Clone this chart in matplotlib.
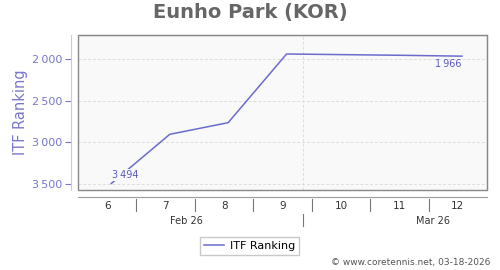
import matplotlib
matplotlib.use("Agg")
import matplotlib.pyplot as plt
from matplotlib.patches import Rectangle
import matplotlib.transforms as mtransforms

# data
weeks = [6, 7, 8, 9, 10, 11, 12]
rank = [3494, 2904, 2764, 1940, 1948, 1956, 1966]
day_offset = 0.07  # points sit a little right of the week centre
week_labels = ['6', '7', '8', '9', '10', '11', '12']
months = ['Feb 26', 'Mar 26']
month_pos = [7.36, 11.57]
month_break = 9 + 2.5 / 7  # Mar 1
yticks = [2000, 2500, 3000, 3500]

line_col = '#6b6bcc'
axis_col = '#7777cc'

def fmt(v):
    s = f"{v:,}"
    return s.replace(',', '\u2009')

fig = plt.figure(figsize=(5, 2.7), dpi=100)
ax = fig.add_axes([0.156, 0.2963, 0.818, 0.5741])
ax.set_facecolor('#f9f9f9')

xs = [w + day_offset for w in weeks]
ax.plot(xs, rank, color=line_col, lw=1.1, label='ITF Ranking', zorder=3)

ax.set_xlim(5.5, 12.5)
ax.set_ylim(3572, 1712)

# labels on first and last point
ax.text(xs[0] + 0.01, rank[0] - 40, fmt(rank[0]), color='#5a5abb', fontsize=7,
        ha='left', va='bottom', zorder=4,
        bbox=dict(facecolor='#f9f9f9', edgecolor='none', pad=0.6))
ax.text(xs[-1], rank[-1] + 40, fmt(rank[-1]), color='#5a5abb', fontsize=7,
        ha='right', va='top', zorder=4)

# grid
for y in yticks:
    ax.axhline(y, color='#dddddd', lw=0.7, ls=(0, (3, 2)), zorder=1)
ax.axvline(month_break, color='#dddddd', lw=0.7, ls=(0, (3, 2)), zorder=1)

# y axis
ax.set_yticks(yticks)
ax.set_yticklabels([fmt(y) for y in yticks])
ax.tick_params(axis='y', colors=axis_col, labelsize=8, length=4, width=0.8, pad=2)
ax.set_ylabel('ITF Ranking', color=axis_col, fontsize=10.5, labelpad=3)

for s in ['top', 'right']:
    ax.spines[s].set_color('#888888')
ax.spines['left'].set_position(('outward', 5))
ax.spines['left'].set_color('#c8c8ee')
ax.spines['bottom'].set_position(('outward', 5))
ax.spines['bottom'].set_color('#999999')
ax.add_patch(Rectangle((0, 0), 1, 1, transform=ax.transAxes, fill=False,
                       edgecolor='#888888', lw=1, clip_on=False, zorder=5))

# x axis: week numbers, separators, months
ax.set_xticks(weeks)
ax.set_xticklabels(week_labels)
ax.tick_params(axis='x', length=0, labelsize=7.5, pad=3, colors='#333333')
trans = mtransforms.blended_transform_factory(ax.transData, ax.transAxes)
for w in weeks[:-1]:
    ax.plot([w + 0.5, w + 0.5], [-0.058, -0.135], color='#777777', lw=0.8,
            transform=trans, clip_on=False)
ax.plot([month_break, month_break], [-0.155, -0.235], color='#777777', lw=0.8,
        transform=trans, clip_on=False)
for m, p in zip(months, month_pos):
    ax.text(p, -0.2, m, transform=trans, ha='center', va='center',
            fontsize=7, color='#333333')

fig.suptitle('Eunho Park (KOR)', fontsize=14, fontweight='bold', color='#666666', y=0.99)

leg = fig.legend(loc='center', bbox_to_anchor=(0.499, 0.0889), fontsize=8,
                 frameon=True, fancybox=False, edgecolor='#bbbbbb',
                 handlelength=1.8, borderpad=0.4, handletextpad=0.5)

fig.text(0.98, 0.01, '\u00a9 www.coretennis.net, 03-18-2026', ha='right', va='bottom',
         fontsize=6.5, color='#555555')

fig.savefig('out.png', dpi=100)
